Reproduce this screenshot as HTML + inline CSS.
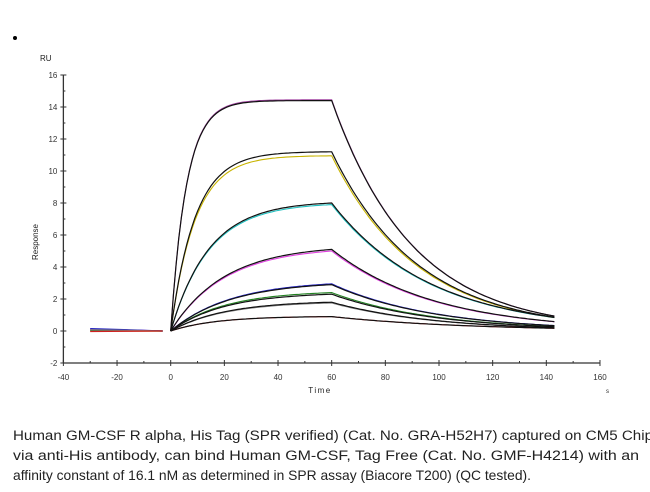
<!DOCTYPE html>
<html><head><meta charset="utf-8"><style>
html,body{margin:0;padding:0;background:#fff;width:650px;height:492px;overflow:hidden}
svg{display:block}
</style></head><body>
<svg id="chart" width="650" height="492" xmlns="http://www.w3.org/2000/svg" font-family="Liberation Sans, sans-serif">
<circle cx="15" cy="38" r="2" fill="#000"/>
<text x="40" y="61" font-size="8" fill="#222">RU</text>
<text transform="translate(38,242) rotate(-90)" text-anchor="middle" font-size="8" fill="#222">Response</text>
<text x="320" y="393" text-anchor="middle" font-size="8" letter-spacing="1.5" fill="#222">Time</text>
<text x="606" y="393" font-size="6" fill="#222">s</text>
<g id="axes"></g>
<g id="series"></g>
<g font-size="13.5" fill="#222">
<text x="13" y="440" textLength="640" lengthAdjust="spacingAndGlyphs">Human GM-CSF R alpha, His Tag (SPR verified) (Cat. No. GRA-H52H7) captured on CM5 Chip</text>
<text x="13" y="460" textLength="626" lengthAdjust="spacingAndGlyphs">via anti-His antibody, can bind Human GM-CSF, Tag Free (Cat. No. GMF-H4214) with an</text>
<text x="13" y="480" textLength="518" lengthAdjust="spacingAndGlyphs" font-size="14">affinity constant of 16.1 nM as determined in SPR assay (Biacore T200) (QC tested).</text>
</g>
</svg>
<script>
const xTicks=[-40,-20,0,20,40,60,80,100,120,140,160];
const yTicks=[-2,0,2,4,6,8,10,12,14,16];
const plateaus=[14.4,11.2,8.0,5.1,2.9,2.3,1.8,0.9];
const onRates=[0.17,0.11,0.07,0.05,0.045,0.05,0.05,0.06];
const offRates=[0.033,0.031,0.027,0.026,0.026,0.026,0.026,0.02];
const dataOffsets=[0.05,-0.25,-0.1,-0.1,0.05,0.1,-0.05,0];
const baseOffsets=[0.1,0,0.05,0.12,0.15,0.02,0.08,-0.03];
const colors=["#a040a0","#c8b400","#20c0c0","#e040e0","#2020c0","#208020","#808080","#d02020"];
const injectStart=0, injectEnd=60, runEnd=143, baseStart=-30;
const NS="http://www.w3.org/2000/svg";
const X=v=>170.7+(v)*2.683;
const Y=v=>331-v*16;
function mk(tag,attrs,parent){const e=document.createElementNS(NS,tag);for(const k in attrs)e.setAttribute(k,attrs[k]);parent.appendChild(e);return e;}
const axes=document.getElementById('axes');
const xl=mk('line',{x1:X(-40),x2:X(160),y1:Y(-2),y2:Y(-2),stroke:'#333','stroke-width':1.3},axes);


const yl=mk('line',{x1:X(-40),x2:X(-40),y1:Y(-2),y2:Y(16),stroke:'#333','stroke-width':1.3},axes);


xTicks.forEach((t,i)=>{
  const tk=mk('line',{x1:X(t),x2:X(t),y1:Y(-2)-3,y2:Y(-2)+3,stroke:'#333'},axes);
  
  
  if(i<xTicks.length-1){const m=mk('line',{x1:X(t+10),x2:X(t+10),y1:Y(-2)-2,y2:Y(-2),stroke:'#333'},axes);
  
  }
  const lb=mk('text',{x:X(t),y:Y(-2)+17,'text-anchor':'middle','font-size':8,fill:'#333'},axes);
  
  
  lb.textContent=t;
});
yTicks.forEach((t,i)=>{
  const tk=mk('line',{x1:X(-40)-3,x2:X(-40)+3,y1:Y(t),y2:Y(t),stroke:'#333'},axes);
  
  
  if(i<yTicks.length-1){const m=mk('line',{x1:X(-40),x2:X(-40)+2,y1:Y(t+1),y2:Y(t+1),stroke:'#333'},axes);
  
  }
  const lb=mk('text',{x:X(-40)-6,y:Y(t)+3,'text-anchor':'end','font-size':8,fill:'#333'},axes);
  
  
  lb.textContent=t;
});
const ser=document.getElementById('series');
function curve(i,off){
  const r60=plateaus[i]+off,k=onRates[i],kd=offRates[i];
  const p=r60/(1-Math.exp(-k*injectEnd));
  let d='';
  for(let t=injectStart;t<=runEnd;t+=1){
    const v=t<=injectEnd?p*(1-Math.exp(-k*t)):r60*Math.exp(-kd*(t-injectEnd));
    d+=(d?'L':'M')+X(t).toFixed(1)+','+Y(v).toFixed(1);
  }
  return d;
}
plateaus.forEach((p,i)=>{
  const base=mk('path',{d:'M'+X(baseStart)+','+Y(baseOffsets[i])+'L'+X(-15)+','+Y(baseOffsets[i]*0.5)+'L'+X(-3)+','+Y(0),fill:'none',stroke:colors[i],'stroke-width':1.2},ser);
  
  
  const dl=mk('path',{d:curve(i,dataOffsets[i]),fill:'none',stroke:colors[i],'stroke-width':1.1},ser);
  
  
});
plateaus.forEach((p,i)=>{
  const fl=mk('path',{d:curve(i,0),fill:'none',stroke:'#111','stroke-width':1.2},ser);
  
  
});
</script>
</body></html>
